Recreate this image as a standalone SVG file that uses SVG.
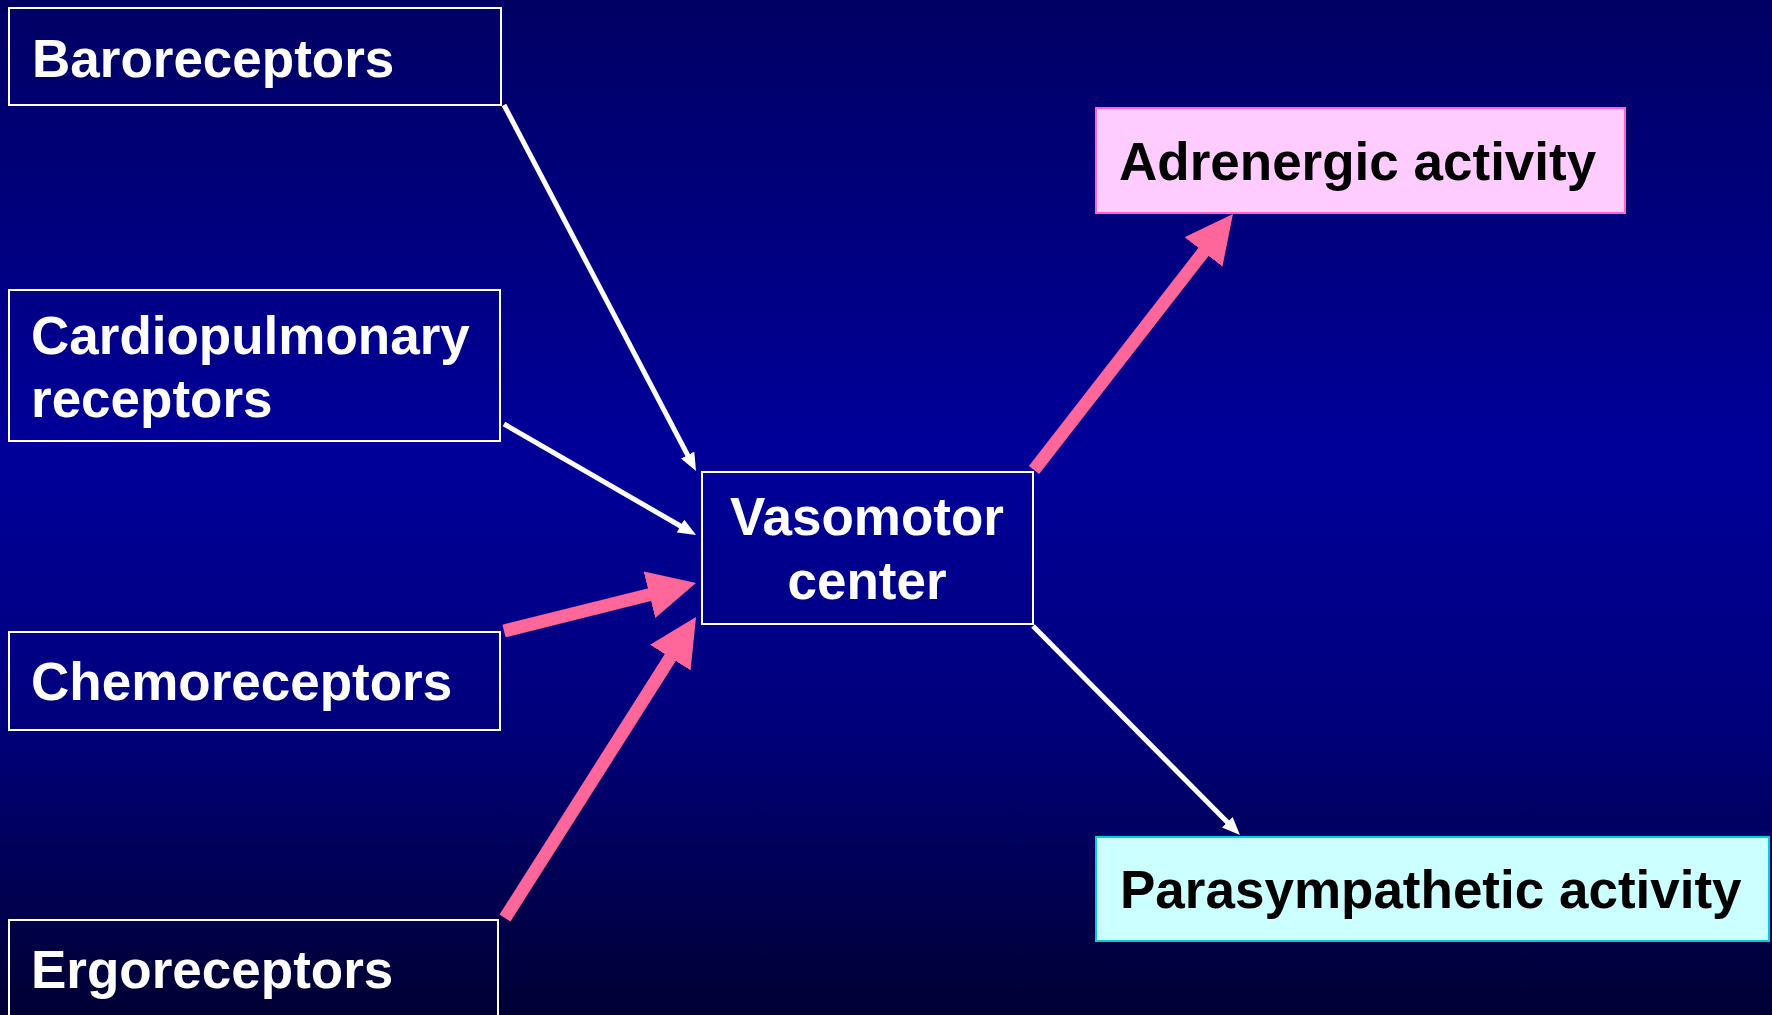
<svg xmlns="http://www.w3.org/2000/svg" width="1772" height="1015" viewBox="0 0 1772 1015">
<defs>
<linearGradient id="bg" x1="0" y1="0" x2="0" y2="1">
<stop offset="0" stop-color="#000063"/>
<stop offset="0.45" stop-color="#000099"/>
<stop offset="0.7" stop-color="#00007D"/>
<stop offset="1" stop-color="#000033"/>
</linearGradient>
<marker id="pinkHead" markerUnits="userSpaceOnUse" markerWidth="48" markerHeight="48" viewBox="0 0 48 48" refX="8" refY="24" orient="auto">
<path d="M0,0 L48,24 L0,48 Z" fill="#FF6699"/>
</marker>
<marker id="whiteHead" markerUnits="userSpaceOnUse" markerWidth="18" markerHeight="15" viewBox="0 0 18 15" refX="4" refY="7.5" orient="auto">
<path d="M0,0 L18,7.5 L0,15 Z" fill="#FFFFFF"/>
</marker>
</defs>
<style>
.box{fill:none;stroke:#FFFFFF;stroke-width:2}
.lbl{font-family:"Liberation Sans",Arial,sans-serif;font-weight:bold;font-size:53px;fill:#FFFFFF}
.dark{fill:#000000}
.pink{stroke:#FF6699;stroke-width:13;fill:none}
.white{stroke:#FFFFFF;stroke-width:5;fill:none}
</style>
<rect x="0" y="0" width="1772" height="1015" fill="url(#bg)"/>

<g id="baroreceptors">
<rect class="box" x="9" y="8" width="492" height="97"/>
<text class="lbl" x="32" y="77">Baroreceptors</text>
</g>
<g id="cardiopulmonary">
<rect class="box" x="9" y="290" width="491" height="151"/>
<text class="lbl" x="31" y="354">Cardiopulmonary</text>
<text class="lbl" x="31" y="417">receptors</text>
</g>
<g id="chemoreceptors">
<rect class="box" x="9" y="632" width="491" height="98"/>
<text class="lbl" x="31" y="700">Chemoreceptors</text>
</g>
<g id="ergoreceptors">
<rect class="box" x="9" y="920" width="489" height="120"/>
<text class="lbl" x="31" y="988">Ergoreceptors</text>
</g>
<g id="vasomotor">
<rect class="box" x="702" y="472" width="331" height="152"/>
<text class="lbl" x="867" y="535" text-anchor="middle">Vasomotor</text>
<text class="lbl" x="867" y="599" text-anchor="middle">center</text>
</g>
<g id="adrenergic">
<rect x="1096" y="108" width="529" height="105" fill="#FFCCFF" stroke="#FF66CC" stroke-width="2"/>
<text class="lbl dark" x="1119" y="180">Adrenergic activity</text>
</g>
<g id="parasympathetic">
<rect x="1096" y="837" width="673" height="104" fill="#CCFFFF" stroke="#00CCDD" stroke-width="2"/>
<text class="lbl dark" x="1120" y="908">Parasympathetic activity</text>
</g>

<g id="connectors">
<line class="white" x1="504" y1="105" x2="689.5" y2="458.6" marker-end="url(#whiteHead)"/>
<line class="white" x1="504" y1="424" x2="683.9" y2="528" marker-end="url(#whiteHead)"/>
<line class="pink" x1="504" y1="631" x2="657.2" y2="592.7" marker-end="url(#pinkHead)"/>
<line class="pink" x1="505" y1="918" x2="674.6" y2="650.8" marker-end="url(#pinkHead)"/>
<line class="pink" x1="1034" y1="470" x2="1208.4" y2="245.6" marker-end="url(#pinkHead)"/>
<line class="white" x1="1033" y1="626" x2="1230.1" y2="825.1" marker-end="url(#whiteHead)"/>
</g>
</svg>
